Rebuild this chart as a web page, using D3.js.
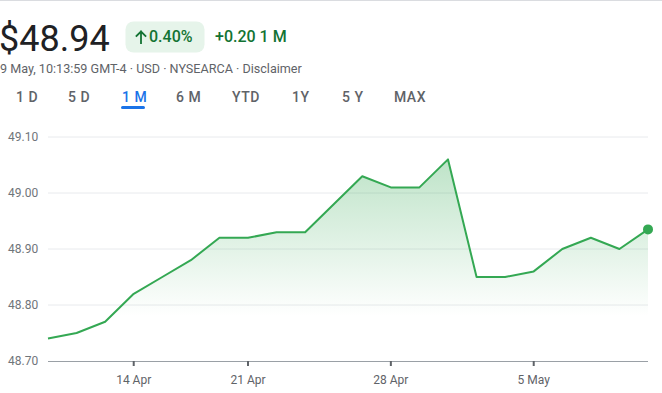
<!DOCTYPE html>
<html><head><meta charset="utf-8">
<script src="https://cdn.jsdelivr.net/npm/d3@7"></script>
<style>
html,body{margin:0;padding:0;background:#fff;overflow:hidden}
svg{display:block;font-family:Roboto,Arial,sans-serif}
</style></head>
<body><svg id="c" width="662" height="393"></svg>
<script>
const dates = ["9 Apr","10 Apr","11 Apr","14 Apr","15 Apr","16 Apr","17 Apr","21 Apr","22 Apr","23 Apr","24 Apr","25 Apr","28 Apr","29 Apr","30 Apr","1 May","2 May","5 May","6 May","7 May","8 May","9 May"];
const prices = [48.74,48.75,48.77,48.82,48.85,48.88,48.92,48.92,48.93,48.93,48.98,49.03,49.01,49.01,49.06,48.85,48.85,48.86,48.90,48.92,48.90,48.935];
const xTickLabels = ["14 Apr","21 Apr","28 Apr","5 May"];
const yTicks = [48.70,48.80,48.90,49.00,49.10];
const tabs = ["1 D","5 D","1 M","6 M","YTD","1Y","5 Y","MAX"];
const tabX = [16,68,122,176,232,292,342,394];
const header = {price:"$48.94", pct:"0.40%", change:"+0.20 1 M", sub:"9 May, 10:13:59 GMT-4 · USD · NYSEARCA · Disclaimer"};

(function(){
const svg = d3.select("#c");
const green = "#34a853";
const pLeft = 48, pRight = 648, pTop = 137, pBottom = 361;

const x = d3.scalePoint().domain(dates).range([pLeft, pRight]);
const y = d3.scaleLinear().domain([48.70, 49.10]).range([pBottom, pTop]);

// top border
svg.append("rect").attr("x",0).attr("y",0).attr("width",662).attr("height",1).attr("fill","#dadce0");

// header
svg.append("text").attr("x",-1).attr("y",51).attr("font-size",36).attr("fill","#202124").text(header.price);
svg.append("rect").attr("x",125.5).attr("y",21.5).attr("width",79).attr("height",31).attr("rx",8).attr("fill","#e6f4ea");
// arrow icon
svg.append("path").attr("d","M141,43 V31.5 M136.5,36 L141,31.5 L145.5,36")
  .attr("fill","none").attr("stroke","#137333").attr("stroke-width",1.8).attr("stroke-linecap","square");
svg.append("text").attr("x",149).attr("y",42).attr("font-size",16).attr("fill","#137333").attr("font-weight",500).text(header.pct);
svg.append("text").attr("x",215).attr("y",42).attr("font-size",16).attr("fill","#137333").attr("font-weight",500).text(header.change);
svg.append("text").attr("x",0).attr("y",73).attr("font-size",12.6).attr("fill","#5f6368").text(header.sub);

// tabs
tabs.forEach((t,i)=>{
  svg.append("text").attr("x",tabX[i]).attr("y",102).attr("font-size",14).attr("font-weight",500)
    .attr("letter-spacing","0.5px")
    .attr("fill", t==="1 M" ? "#1a73e8" : "#5f6368").text(t);
});
svg.append("rect").attr("x",121).attr("y",106).attr("width",24).attr("height",3).attr("rx",1.5).attr("fill","#1a73e8");

// grid
svg.append("g").selectAll("line").data(yTicks.slice(1)).join("line")
  .attr("x1",pLeft).attr("x2",pRight).attr("y1",d=>y(d)).attr("y2",d=>y(d))
  .attr("stroke","#e8eaed").attr("stroke-width",1);
svg.append("g").selectAll("text").data(yTicks).join("text")
  .attr("x",8).attr("y",d=>y(d)).attr("dy","0.35em").attr("font-size",12).attr("fill","#70757a")
  .text(d=>d.toFixed(2));

// gradient
const defs = svg.append("defs");
const grad = defs.append("linearGradient").attr("id","g").attr("gradientUnits","userSpaceOnUse")
  .attr("x1",0).attr("x2",0).attr("y1",y(49.06)).attr("y2",y(48.78));
grad.append("stop").attr("offset",0).attr("stop-color",green).attr("stop-opacity",0.32);
grad.append("stop").attr("offset",1).attr("stop-color",green).attr("stop-opacity",0);

const data = dates.map((d,i)=>({d, v:prices[i]}));
svg.append("path").datum(data)
  .attr("d", d3.area().x(p=>x(p.d)).y0(pBottom).y1(p=>y(p.v)))
  .attr("fill","url(#g)");
svg.append("path").datum(data)
  .attr("d", d3.line().x(p=>x(p.d)).y(p=>y(p.v)))
  .attr("fill","none").attr("stroke",green).attr("stroke-width",2).attr("stroke-linejoin","round");

// x axis
svg.append("line").attr("x1",pLeft).attr("x2",pRight).attr("y1",pBottom+0.5).attr("y2",pBottom+0.5).attr("stroke","#9aa0a6").attr("stroke-width",1);
const ax = svg.append("g");
xTickLabels.forEach(t=>{
  ax.append("line").attr("x1",x(t)).attr("x2",x(t)).attr("y1",pBottom).attr("y2",pBottom+5).attr("stroke","#5f6368").attr("stroke-width",2);
  ax.append("text").attr("x",x(t)).attr("y",384).attr("text-anchor","middle").attr("font-size",12).attr("fill","#5f6368").text(t);
});

// end dot
const last = data[data.length-1];
svg.append("circle").attr("cx",x(last.d)).attr("cy",y(last.v)).attr("r",5).attr("fill",green);
})();
</script></body></html>
